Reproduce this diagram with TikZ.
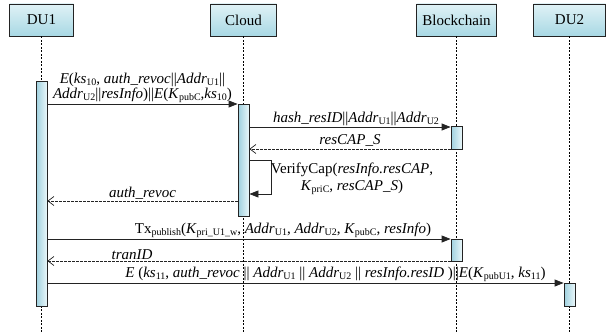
\documentclass[tikz,border=0pt]{standalone}
\usepackage{fontspec}
\setmainfont{Liberation Serif}
\usetikzlibrary{arrows.meta}

\definecolor{boxtop}{RGB}{224,242,246}
\definecolor{boxbot}{RGB}{168,216,228}
\definecolor{barL}{RGB}{158,208,222}
\definecolor{barR}{RGB}{234,247,250}
\definecolor{ink}{RGB}{35,35,35}

% upright subscript in text
\newcommand\sub[1]{\raisebox{-0.35ex}{\fontsize{10}{10}\selectfont\upshape #1}}
\newcommand\dbar{\textup{||}}
\newcommand\ad[1]{\textit{Addr}\sub{#1}}

\begin{document}
\begin{tikzpicture}[x=1pt,y=-1pt,
  every node/.style={font=\fontsize{15}{15}\selectfont},
  head/.style={draw=ink, line width=0.8pt, top color=boxtop, bottom color=boxbot,
    minimum height=32pt, inner sep=0pt},
  actbar/.style={draw=ink, line width=0.8pt, left color=barL, right color=barR,
    minimum width=11pt, inner sep=0pt, anchor=north},
  life/.style={draw=black, line width=0.6pt, dash pattern=on 2pt off 1.5pt},
  call/.style={draw=ink, line width=0.8pt, -{Triangle[length=9pt,width=7pt]}},
  reply/.style={draw=ink, line width=0.7pt, dash pattern=on 2.5pt off 1.5pt,
    -{Straight Barb[length=6pt,width=9pt,line width=0.7pt]}},
  lbl/.style={inner sep=1pt, align=center}
]
\useasboundingbox (0,0) rectangle (607,334);

% participants
\node[head, minimum width=64pt] (du1)   at (41.5,20)  {DU1};
\node[head, minimum width=66pt] (cloud) at (243.5,20) {Cloud};
\node[head, minimum width=80pt] (chain) at (456.5,20) {Blockchain};
\node[head, minimum width=72pt] (du2)   at (569.5,20) {DU2};

% lifelines
\coordinate (bottom) at (0,334);
\foreach \p in {du1,cloud,chain,du2}
  \draw[life] (\p.south) -- (\p.south |- bottom);

% activation bars
\node[actbar, minimum height=225pt] (a1) at (41.5,81)  {};
\node[actbar, minimum height=112pt] (a2) at (243.5,104) {};
\node[actbar, minimum height=23pt]  (a3) at (456.5,126) {};
\node[actbar, minimum height=22pt]  (a4) at (456.5,239) {};
\node[actbar, minimum height=23pt]  (a5) at (569.5,283) {};

% message rows
\coordinate (r1) at (0,104);
\coordinate (r2) at (0,127);
\coordinate (r3) at (0,149);
\coordinate (r4a) at (0,160);
\coordinate (r4b) at (0,194);
\coordinate (r5) at (0,201);
\coordinate (r6) at (0,239);
\coordinate (r7) at (0,261);
\coordinate (r8) at (0,283);

\draw[call] (a1.east |- r1) -- node[lbl, above]
  {\textit{E}(\textit{ks}\sub{10}, \textit{auth\_revoc}\dbar\ad{U1}\dbar\\
   \ad{U2}\dbar\textit{resInfo})\dbar\textit{E}(\textit{K}\sub{pubC},\textit{ks}\sub{10})}
  (a2.west |- r1);

\draw[call] (a2.east |- r2) -- node[lbl, above, xshift=6pt]
  {\textit{hash\_resID}\dbar\ad{U1}\dbar\ad{U2}} (a3.west |- r2);

\draw[reply] (a3.west |- r3) -- node[lbl, above, yshift=1pt] {\textit{resCAP\_S}} (a2.east |- r3);

% self call on the cloud
\draw[call] (a2.east |- r4a) -- ++(22,0) |- (a2.east |- r4b);
\node[lbl, font=\fontsize{15}{17}\selectfont] (vcap) at (352,178.5)
  {VerifyCap(\textit{resInfo.resCAP},\\\textit{K}\sub{priC}, \textit{resCAP\_S})};

\draw[reply] (a2.west |- r5) -- node[lbl, above] {\textit{auth\_revoc}} (a1.east |- r5);

\draw[call] (a1.east |- r6) -- node[lbl, above, xshift=34pt]
  {Tx\sub{publish}(\textit{K}\sub{pri\_U1\_w}, \ad{U1}, \ad{U2}, \textit{K}\sub{pubC}, \textit{resInfo})}
  (a4.west |- r6);

\draw[reply] (a4.west |- r7) -- node[lbl, above, pos=0.79] {\textit{tranID}} (a1.east |- r7);

\draw[call] (a1.east |- r8) -- node[lbl, above, xshift=30pt]
  {\textit{E} (\textit{ks}\sub{11}, \textit{auth\_revoc} \dbar\ \ad{U1} \dbar\ \ad{U2} \dbar\
   \textit{resInfo.resID} )\dbar\textit{E}(\textit{K}\sub{pubU1}, \textit{ks}\sub{11})}
  (a5.west |- r8);
\end{tikzpicture}
\end{document}
